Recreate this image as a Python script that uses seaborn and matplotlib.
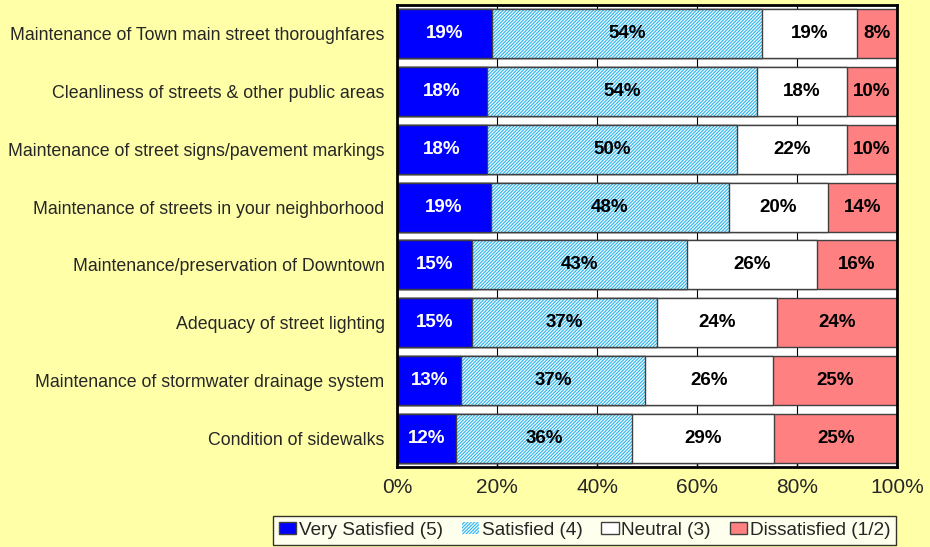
import numpy as np
import matplotlib
matplotlib.use("Agg")
import matplotlib.pyplot as plt
import pandas as pd
import seaborn as sns
from matplotlib.patches import Patch

# categories (top to bottom) and the percentages shown on the bars
categories = [
    "Maintenance of Town main street thoroughfares",
    "Cleanliness of streets & other public areas",
    "Maintenance of street signs/pavement markings",
    "Maintenance of streets in your neighborhood",
    "Maintenance/preservation of Downtown",
    "Adequacy of street lighting",
    "Maintenance of stormwater drainage system",
    "Condition of sidewalks",
]
very_satisfied = [19, 18, 18, 19, 15, 15, 13, 12]
satisfied = [54, 54, 50, 48, 43, 37, 37, 36]
neutral = [19, 18, 22, 20, 26, 24, 26, 29]
dissatisfied = [8, 10, 10, 14, 16, 24, 25, 25]
series_names = ["Very Satisfied (5)", "Satisfied (4)", "Neutral (3)", "Dissatisfied (1/2)"]

bg = "#FFFFA8"
blue = "#0000FF"
hatch_blue = "#38B8EE"
red = "#FF8080"
edge = "#404040"
hatch = "/" * 10

sns.set_style("white")
plt.rcParams["font.family"] = ["Liberation Sans", "DejaVu Sans"]
plt.rcParams["hatch.linewidth"] = 0.9

df = pd.DataFrame({"cat": categories, "vs": very_satisfied, "s": satisfied,
                   "n": neutral, "d": dissatisfied})
# rows do not always add to exactly 100 because of rounding, so scale each to 100
tot = df[["vs", "s", "n", "d"]].sum(axis=1)
for c in ["vs", "s", "n", "d"]:
    df[c + "_p"] = df[c] / tot * 100
df["c1"] = df["vs_p"]
df["c2"] = df["c1"] + df["s_p"]
df["c3"] = df["c2"] + df["n_p"]
df["c4"] = df["c3"] + df["d_p"]

fig = plt.figure(figsize=(9.3, 5.47), dpi=100, facecolor=bg)
ax = fig.add_axes([397 / 930, 1 - 467 / 547, 500 / 930, 462 / 547])
ax.set_facecolor("white")

w = 0.85
common = dict(data=df, y="cat", width=w, ax=ax, saturation=1, zorder=2)
sns.barplot(x="c4", color=red, edgecolor=edge, linewidth=1, **common)
sns.barplot(x="c3", color="white", edgecolor=edge, linewidth=1, **common)
sns.barplot(x="c2", color="white", edgecolor=hatch_blue, linewidth=0, hatch=hatch, **common)
sns.barplot(x="c2", color=edge, fill=False, linewidth=1, **common)
sns.barplot(x="c1", color=blue, edgecolor=edge, linewidth=1, **common)

# value labels
for i, row in df.iterrows():
    starts = [0, row["c1"], row["c2"], row["c3"]]
    widths = [row["vs_p"], row["s_p"], row["n_p"], row["d_p"]]
    labels = [row["vs"], row["s"], row["n"], row["d"]]
    for j in range(4):
        ax.text(starts[j] + widths[j] / 2, i, f"{labels[j]}%", ha="center", va="center",
                fontsize=13.5, fontweight="bold", color="white" if j == 0 else "black", zorder=5)

ax.set_xlim(0, 100)
ax.set_xticks(np.arange(0, 101, 20))
ax.set_xticklabels([f"{t}%" for t in range(0, 101, 20)], fontsize=15)
ax.xaxis.grid(True, color="black", linewidth=0.8, zorder=0)
ax.set_axisbelow(True)
ax.tick_params(axis="x", direction="in", length=5, width=1, color="black", pad=8, bottom=True)
ax.tick_params(axis="y", length=0, labelsize=12.8, pad=9)
ax.set_xlabel("")
ax.set_ylabel("")
for s in ax.spines.values():
    s.set_visible(True)
    s.set_color("black")
    s.set_linewidth(2)

handles = [Patch(facecolor=blue, edgecolor=edge),
           Patch(facecolor="white", edgecolor=hatch_blue, hatch=hatch, linewidth=0),
           Patch(facecolor="white", edgecolor=edge),
           Patch(facecolor=red, edgecolor=edge)]
leg = fig.legend(handles, series_names, loc="upper center", bbox_to_anchor=(0.6285, 0.056), ncol=4,
                 fontsize=13.7, frameon=True, fancybox=False, edgecolor="black",
                 handlelength=0.9, handleheight=0.6, handletextpad=0.15, columnspacing=1.0,
                 borderpad=0.3, borderaxespad=0)
leg.get_frame().set_linewidth(1)
leg.get_frame().set_facecolor("white")

fig.savefig("out.png", dpi=100, facecolor=bg)
